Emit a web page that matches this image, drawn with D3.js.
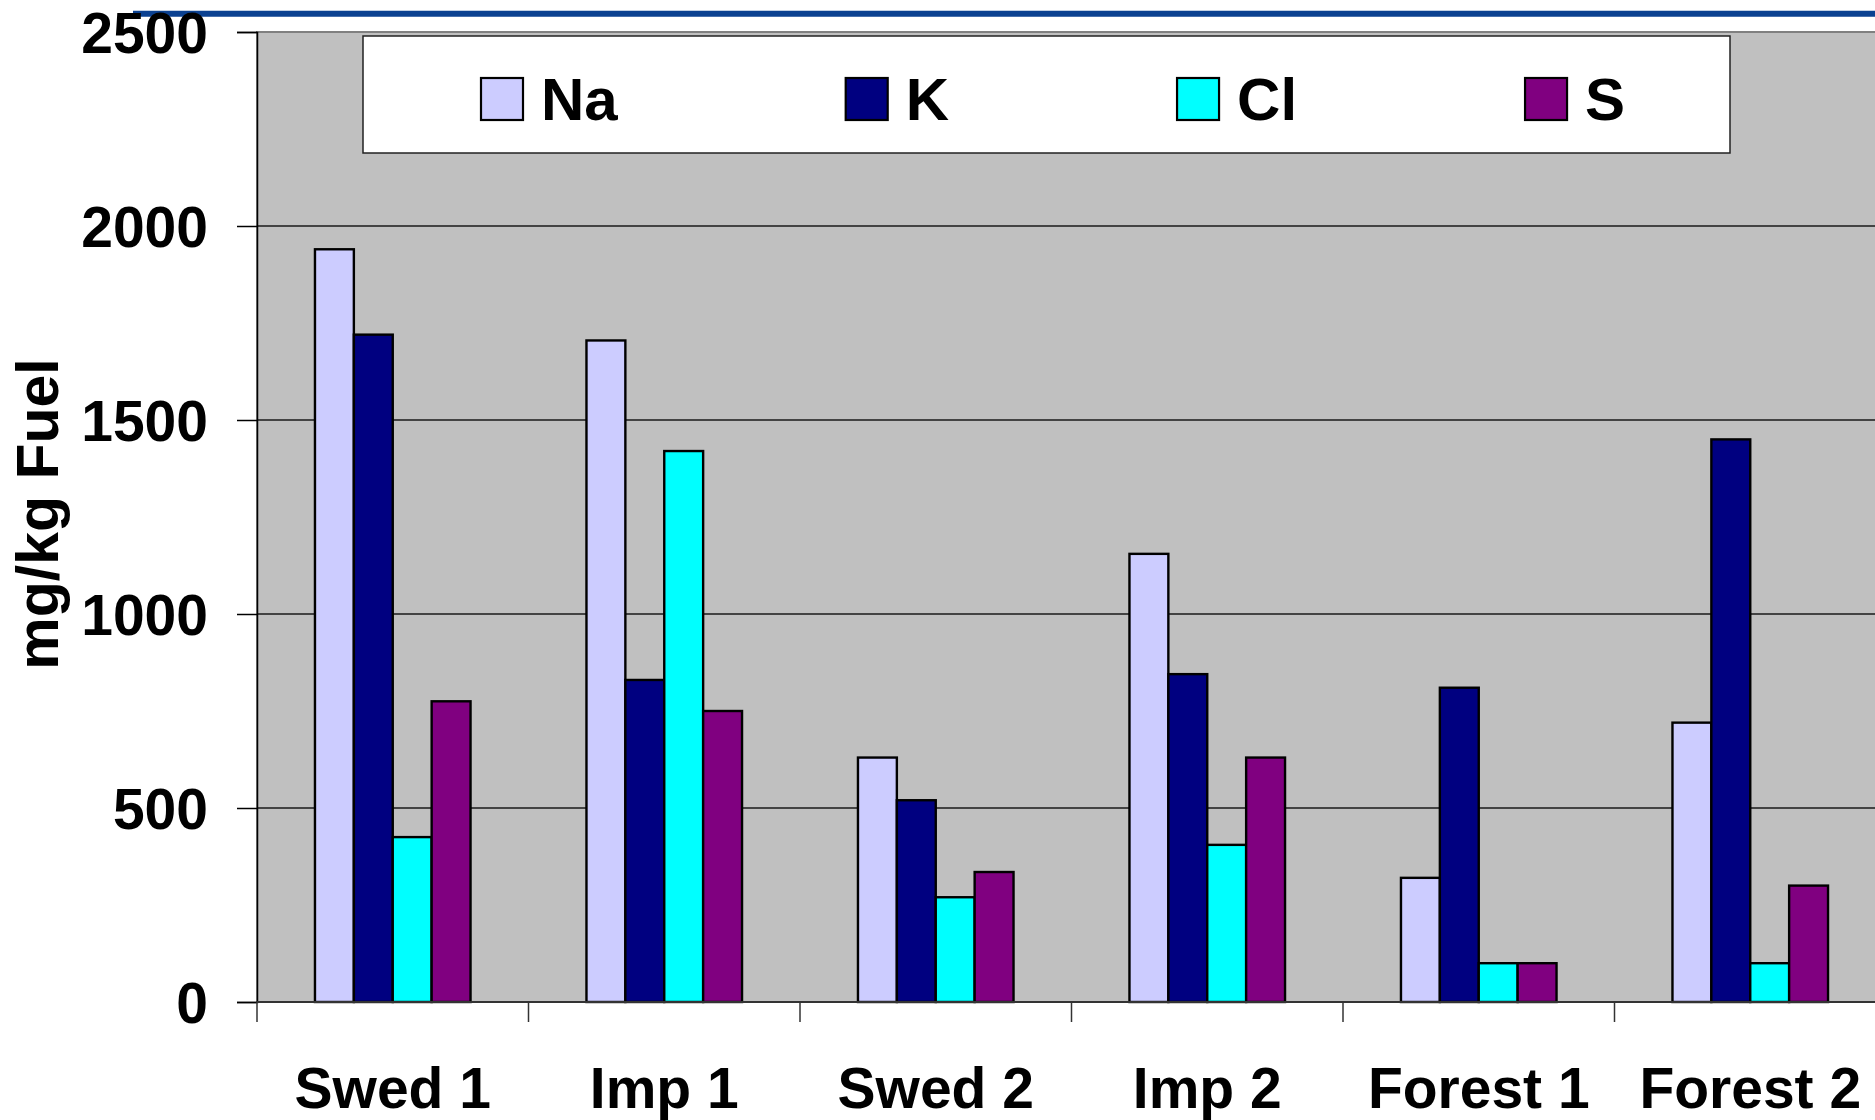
<!DOCTYPE html>
<html>
<head>
<meta charset="utf-8">
<script src="https://cdn.jsdelivr.net/npm/d3@7"></script>
<style>
  html, body { margin: 0; padding: 0; background: #ffffff; }
  svg { display: block; font-family: "Liberation Sans", Arial, sans-serif; font-weight: bold; }
</style>
</head>
<body>
<svg id="chart" width="1875" height="1120"></svg>
<script>
// Fuel composition per sample (mg/kg fuel)
const categories = ["Swed 1", "Imp 1", "Swed 2", "Imp 2", "Forest 1", "Forest 2"];
const seriesNames = ["Na", "K", "Cl", "S"];
const naValues = [1940, 1705, 630, 1155, 320, 720];
const kValues  = [1720, 830, 520, 845, 810, 1450];
const clValues = [425, 1420, 270, 405, 100, 100];
const sValues  = [775, 750, 335, 630, 100, 300];
const yTickValues = [0, 500, 1000, 1500, 2000, 2500];
const yTitle = "mg/kg Fuel";

const seriesValues = [naValues, kValues, clValues, sValues];
const seriesColors = ["#CCCCFF", "#000080", "#00FFFF", "#800080"];

const svg = d3.select("#chart");
const plot = { left: 257, top: 32, bottom: 1002, right: 1886 };

const x0 = d3.scaleBand()
  .domain(categories)
  .range([plot.left, plot.right])
  .paddingInner(0.427)
  .paddingOuter(0.2135);
const x1 = d3.scaleBand()
  .domain(seriesNames)
  .range([0, x0.bandwidth()]);
const y = d3.scaleLinear().domain([0, 2500]).range([plot.bottom, plot.top]);
const color = d3.scaleOrdinal().domain(seriesNames).range(seriesColors);

// Header rule across the top
svg.append("line")
  .attr("x1", 133).attr("x2", 1875)
  .attr("y1", 13.7).attr("y2", 13.7)
  .attr("stroke", "#0B4191").attr("stroke-width", 6);

// Plot area background
svg.append("rect")
  .attr("x", plot.left).attr("y", plot.top)
  .attr("width", plot.right - plot.left).attr("height", plot.bottom - plot.top)
  .attr("fill", "#C0C0C0").attr("stroke", "#808080").attr("stroke-width", 2);

// Horizontal gridlines
svg.append("g").selectAll("line")
  .data(yTickValues.filter(v => v > 0 && v < 2500))
  .join("line")
  .attr("x1", plot.left).attr("x2", plot.right)
  .attr("y1", d => y(d)).attr("y2", d => y(d))
  .attr("stroke", "#1a1a1a").attr("stroke-width", 1.6);

// Bars
const rows = categories.map((c, i) => ({
  category: c,
  values: seriesNames.map((s, j) => ({ series: s, value: seriesValues[j][i] }))
}));
svg.append("g").selectAll("g")
  .data(rows)
  .join("g")
  .attr("transform", d => `translate(${x0(d.category)},0)`)
  .selectAll("rect")
  .data(d => d.values)
  .join("rect")
  .attr("x", d => x1(d.series))
  .attr("y", d => y(d.value))
  .attr("width", x1.bandwidth())
  .attr("height", d => y(0) - y(d.value))
  .attr("fill", d => color(d.series))
  .attr("stroke", "#000").attr("stroke-width", 2.4);

// Y axis
const yAxis = svg.append("g")
  .attr("transform", `translate(${plot.left},0)`)
  .call(d3.axisLeft(y).tickValues(yTickValues).tickSize(20).tickPadding(29).tickFormat(d3.format("d")));
yAxis.select(".domain").attr("stroke", "#000").attr("stroke-width", 1.5);
yAxis.selectAll(".tick line").attr("stroke", "#000").attr("stroke-width", 1.5);
yAxis.selectAll(".tick text")
  .attr("font-size", 57).attr("font-weight", "bold").attr("fill", "#000")
  .attr("font-family", "Liberation Sans, Arial, sans-serif")
  .attr("dy", "0.36em");

// X axis: category boundaries as tick marks, labels centred in each band
svg.append("line")
  .attr("x1", plot.left).attr("x2", plot.right)
  .attr("y1", plot.bottom).attr("y2", plot.bottom)
  .attr("stroke", "#333").attr("stroke-width", 2);
svg.append("g").selectAll("line")
  .data(categories)
  .join("line")
  .attr("x1", d => x0(d) - x0.step() * x0.paddingOuter())
  .attr("x2", d => x0(d) - x0.step() * x0.paddingOuter())
  .attr("y1", plot.bottom).attr("y2", plot.bottom + 20)
  .attr("stroke", "#333").attr("stroke-width", 1.5);
svg.append("g").selectAll("text")
  .data(categories)
  .join("text")
  .attr("x", d => x0(d) + x0.bandwidth() / 2)
  .attr("y", 1108)
  .attr("text-anchor", "middle")
  .attr("font-size", 57)
  .attr("fill", "#000")
  .text(d => d);

// Y axis title
svg.append("text")
  .attr("transform", "translate(58,514) rotate(-90)")
  .attr("text-anchor", "middle")
  .attr("font-size", 59)
  .attr("fill", "#000")
  .text(yTitle);

// Legend
const legend = svg.append("g");
legend.append("rect")
  .attr("x", 363).attr("y", 36).attr("width", 1367).attr("height", 117)
  .attr("fill", "#fff").attr("stroke", "#222").attr("stroke-width", 1.5);
let lx = 481;
seriesNames.forEach(s => {
  const item = legend.append("g");
  item.append("rect")
    .attr("x", lx).attr("y", 78).attr("width", 42).attr("height", 42)
    .attr("fill", color(s)).attr("stroke", "#000").attr("stroke-width", 2.2);
  const t = item.append("text")
    .attr("x", lx + 60).attr("y", 120)
    .attr("font-size", 60).attr("fill", "#000")
    .text(s);
  lx += 60 + t.node().getComputedTextLength() + 228;
});
</script>
</body>
</html>
